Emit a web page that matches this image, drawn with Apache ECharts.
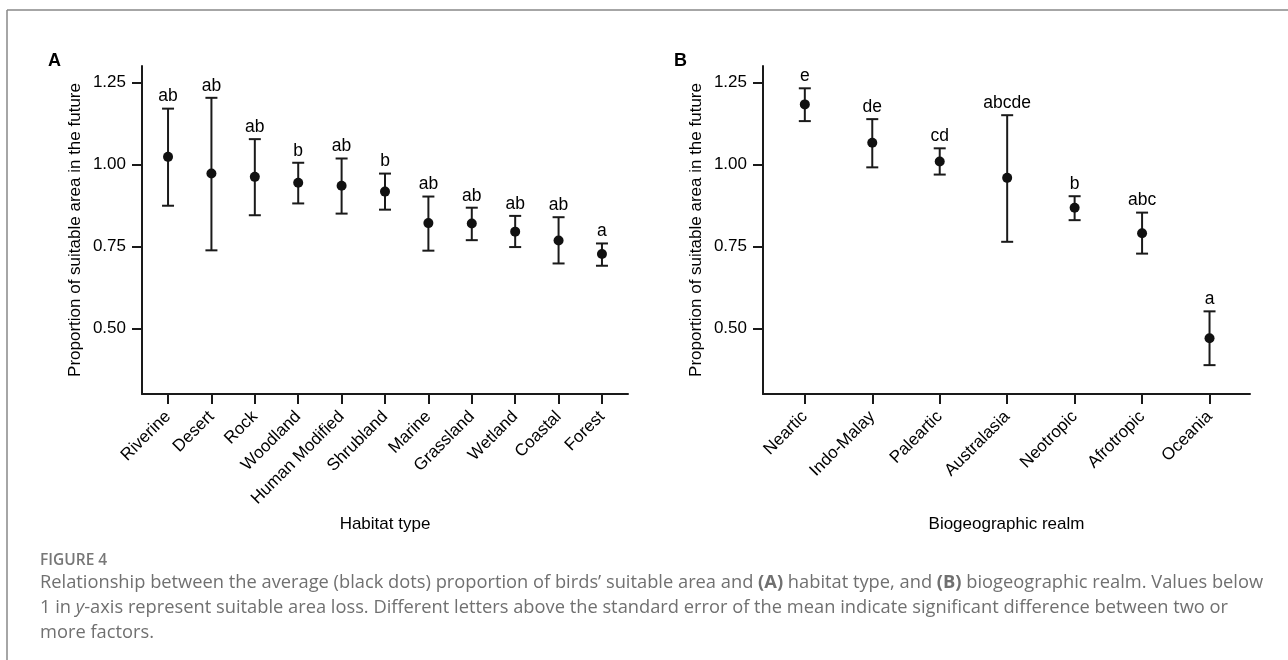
<!DOCTYPE html>
<html>
<head>
<meta charset="utf-8">
<script src="https://cdn.jsdelivr.net/npm/echarts@6.0.0/dist/echarts.min.js"></script>
<style>
  html, body { margin: 0; padding: 0; background: #fff; }
  #main { width: 1288px; height: 660px; }
</style>
</head>
<body>
<div id="main"></div>
<script>
// panel A - habitat type
var habitats = ['Riverine', 'Desert', 'Rock', 'Woodland', 'Human Modified', 'Shrubland', 'Marine', 'Grassland', 'Wetland', 'Coastal', 'Forest'];
var habitatMean = [1.023, 0.972, 0.962, 0.944, 0.935, 0.917, 0.821, 0.820, 0.795, 0.768, 0.727];
var habitatUpper = [1.170, 1.203, 1.077, 1.005, 1.018, 0.972, 0.902, 0.868, 0.843, 0.839, 0.759];
var habitatLower = [0.874, 0.738, 0.845, 0.881, 0.850, 0.862, 0.737, 0.769, 0.748, 0.698, 0.691];
var habitatLetters = ['ab', 'ab', 'ab', 'b', 'ab', 'b', 'ab', 'ab', 'ab', 'ab', 'a'];

// panel B - biogeographic realm
var realms = ['Neartic', 'Indo-Malay', 'Paleartic', 'Australasia', 'Neotropic', 'Afrotropic', 'Oceania'];
var realmMean = [1.183, 1.066, 1.009, 0.959, 0.868, 0.790, 0.470];
var realmUpper = [1.232, 1.138, 1.049, 1.150, 0.903, 0.853, 0.552];
var realmLower = [1.132, 0.991, 0.969, 0.764, 0.830, 0.728, 0.388];
var realmLetters = ['e', 'de', 'cd', 'abcde', 'b', 'abc', 'a'];

var yTicks = [0.5, 0.75, 1.0, 1.25];

var FONT = '"Liberation Sans", Arial, sans-serif';
var INK = '#1a1a1a';

var chart = echarts.init(document.getElementById('main'));

function positions(arr) {
    return arr.map(function (d, i) { return i + 1; });
}

function makeX(idx, cats, xMin, xMax, name) {
    return {
        type: 'value', gridIndex: idx, min: xMin, max: xMax,
        name: name, nameLocation: 'middle', nameGap: 122, nameMoveOverlap: false,
        nameTextStyle: { fontFamily: FONT, fontSize: 17, color: '#000' },
        splitLine: { show: false },
        axisLine: { show: true, onZero: false, lineStyle: { color: INK, width: 2 } },
        axisTick: { show: true, length: 10, lineStyle: { color: INK, width: 2 }, customValues: positions(cats) },
        axisLabel: {
            rotate: 45, margin: 20, fontFamily: FONT, fontSize: 17, color: '#000',
            customValues: positions(cats),
            formatter: function (v) { return cats[Math.round(v) - 1]; }
        }
    };
}

function makeY(idx) {
    return {
        type: 'value', gridIndex: idx, min: 0.3, max: 1.3,
        name: 'Proportion of suitable area in the future',
        nameLocation: 'middle', nameGap: 58, nameMoveOverlap: false,
        nameTextStyle: { fontFamily: FONT, fontSize: 17, color: '#000' },
        splitLine: { show: false },
        axisLine: { show: true, onZero: false, lineStyle: { color: INK, width: 2 } },
        axisTick: { show: true, length: 10, lineStyle: { color: INK, width: 2 }, customValues: yTicks },
        axisLabel: {
            margin: 16, fontFamily: FONT, fontSize: 17, color: '#000',
            customValues: yTicks,
            formatter: function (v) { return v.toFixed(2); }
        }
    };
}

function errorSeries(idx, upper, lower, letters) {
    return {
        type: 'custom', xAxisIndex: idx, yAxisIndex: idx, clip: false, z: 2,
        data: upper.map(function (u, i) { return [i + 1, u, lower[i]]; }),
        renderItem: function (params, api) {
            var top = api.coord([api.value(0), api.value(1)]);
            var bot = api.coord([api.value(0), api.value(2)]);
            var hw = 6;
            var ls = { stroke: INK, lineWidth: 2 };
            return {
                type: 'group',
                children: [
                    { type: 'line', shape: { x1: top[0], y1: top[1], x2: bot[0], y2: bot[1] }, style: ls },
                    { type: 'line', shape: { x1: top[0] - hw, y1: top[1], x2: top[0] + hw, y2: top[1] }, style: ls },
                    { type: 'line', shape: { x1: bot[0] - hw, y1: bot[1], x2: bot[0] + hw, y2: bot[1] }, style: ls },
                    {
                        type: 'text',
                        style: {
                            text: letters[params.dataIndex], x: top[0], y: top[1] - 3,
                            align: 'center', verticalAlign: 'bottom',
                            fontFamily: FONT, fontSize: 17.5, fill: '#000'
                        }
                    }
                ]
            };
        }
    };
}

function meanSeries(idx, mean) {
    return {
        type: 'scatter', xAxisIndex: idx, yAxisIndex: idx, z: 3,
        symbol: 'circle', symbolSize: 10,
        itemStyle: { color: '#111', opacity: 1 },
        data: mean.map(function (m, i) { return [i + 1, m]; })
    };
}

var capFont = '"Open Sans", "Noto Sans", sans-serif';
var capColor = '#707070';
var capSize = 18.3;

option = {
    animation: false,
    backgroundColor: '#fff',
    grid: [
        { left: 142, top: 66, width: 486, height: 328 },
        { left: 763, top: 66, width: 487, height: 328 }
    ],
    xAxis: [
        makeX(0, habitats, 0.4, 11.6, 'Habitat type'),
        makeX(1, realms, 0.38, 7.6, 'Biogeographic realm')
    ],
    yAxis: [makeY(0), makeY(1)],
    series: [
        errorSeries(0, habitatUpper, habitatLower, habitatLetters),
        meanSeries(0, habitatMean),
        errorSeries(1, realmUpper, realmLower, realmLetters),
        meanSeries(1, realmMean)
    ],
    graphic: [
        { type: 'line', shape: { x1: 7, y1: 10, x2: 1288, y2: 10 }, style: { stroke: '#888', lineWidth: 1.5 } },
        { type: 'line', shape: { x1: 7, y1: 10, x2: 7, y2: 660 }, style: { stroke: '#888', lineWidth: 1.5 } },
        { type: 'text', left: 48, top: 52, style: { text: 'A', fontFamily: FONT, fontWeight: 'bold', fontSize: 18, fill: '#000' } },
        { type: 'text', left: 674, top: 52, style: { text: 'B', fontFamily: FONT, fontWeight: 'bold', fontSize: 18, fill: '#000' } },
        { type: 'text', left: 40, top: 553, style: { text: 'FIGURE 4', fontFamily: capFont, fontWeight: 600, fontSize: 15.5, fill: '#777' } },
        {
            type: 'text', left: 40, top: 574,
            style: {
                text: 'Relationship between the average (black dots) proportion of birds’ suitable area and {b|(A)} habitat type, and {b|(B)} biogeographic realm. Values below',
                fontFamily: capFont, fontSize: capSize, fill: capColor,
                rich: { b: { fontFamily: capFont, fontSize: capSize, fontWeight: 'bold', fill: capColor } }
            }
        },
        {
            type: 'text', left: 40, top: 599,
            style: {
                text: '1 in {i|y}-axis represent suitable area loss. Different letters above the standard error of the mean indicate significant difference between two or',
                fontFamily: capFont, fontSize: capSize, fill: capColor,
                rich: { i: { fontFamily: capFont, fontSize: capSize, fontStyle: 'italic', fill: capColor } }
            }
        },
        {
            type: 'text', left: 40, top: 624,
            style: { text: 'more factors.', fontFamily: capFont, fontSize: capSize, fill: capColor }
        }
    ]
};

chart.setOption(option);
</script>
</body>
</html>
